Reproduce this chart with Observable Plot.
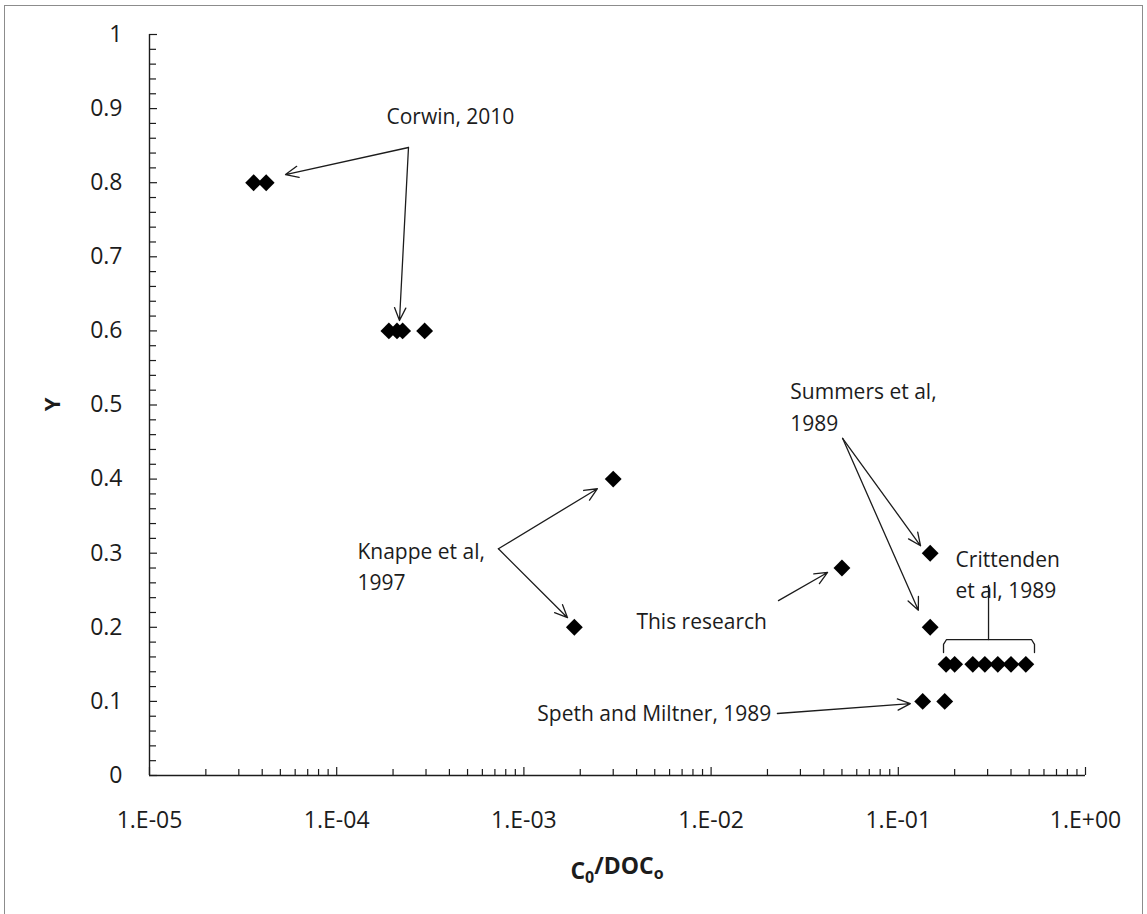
<!DOCTYPE html>
<html>
<head>
<meta charset="utf-8">
<script src="https://cdn.jsdelivr.net/npm/d3@7"></script>
<script src="https://cdn.jsdelivr.net/npm/@observablehq/plot@0.6"></script>
<style>
  body { margin: 0; background: #fff; }
  #chart { position: absolute; left: 0; top: 0; }
  #frame { position: absolute; left: 4px; top: 5px; width: 1137px; height: 940px;
           border: 1px solid #8c8c8c; pointer-events: none; }
</style>
</head>
<body>
<div id="chart"></div>
<div id="frame"></div>
<script>
// Adsorption data: Y versus C0/DOC0, grouped by source
const corwinX = [3.6e-5, 4.2e-5, 1.9e-4, 2.1e-4, 2.25e-4, 2.95e-4];
const corwinY = [0.8, 0.8, 0.6, 0.6, 0.6, 0.6];
const knappeX = [1.86e-3, 3.0e-3];
const knappeY = [0.2, 0.4];
const researchX = [0.05];
const researchY = [0.28];
const summersX = [0.148, 0.148];
const summersY = [0.3, 0.2];
const crittendenX = [0.18, 0.20, 0.25, 0.29, 0.34, 0.40, 0.48];
const crittendenY = [0.15, 0.15, 0.15, 0.15, 0.15, 0.15, 0.15];
const spethX = [0.135, 0.177];
const spethY = [0.1, 0.1];

// Callout labels (data coordinates of the left edge / vertical middle)
const labelText = ["Corwin, 2010", "Knappe et al,\n1997", "This research",
                   "Summers et al,\n1989", "Crittenden\net al, 1989", "Speth and Miltner, 1989"];
const labelX = [1.845e-4, 1.29e-4, 3.99e-3, 0.0265, 0.2023, 1.18e-3];
const labelY = [0.893, 0.285, 0.212, 0.50, 0.274, 0.0877];

// Callout arrows: from label to points
const arrowX1 = [2.418e-4, 2.418e-4, 7.31e-4, 7.31e-4, 0.0229, 0.0504, 0.0504, 0.0226];
const arrowY1 = [0.8475, 0.8475, 0.306, 0.306, 0.236, 0.455, 0.455, 0.0837];
const arrowX2 = [5.33e-5, 2.165e-4, 2.47e-3, 1.71e-3, 0.0419, 0.1315, 0.128, 0.116];
const arrowY2 = [0.811, 0.614, 0.387, 0.213, 0.274, 0.310, 0.223, 0.097];

// Brace grouping the Crittenden points
const braceX = [0.1744, 0.1744, 0.181, 0.5145, 0.534, 0.534];
const braceY = [0.166, 0.177, 0.1835, 0.1835, 0.177, 0.166];
const stemX = [0.3034, 0.3034];
const stemY = [0.1835, 0.2564];

// Axis ticks
const xMajor = [1e-5, 1e-4, 1e-3, 1e-2, 1e-1, 1];
const xMinor = [];
for (let e = -5; e < 0; e++) for (let m = 2; m <= 9; m++) xMinor.push(m * Math.pow(10, e));
const yMajor = d3.range(0, 11).map(i => i / 10);
const yMinor = d3.range(0, 51).map(i => i / 50).filter((v, i) => i % 5 !== 0);

const W = 1147, H = 914;
const mL = 149, mR = 62, mT = 34, mB = 139;
const innerW = W - mL - mR, innerH = H - mT - mB;

const zip = (xs, ys) => xs.map((x, i) => ({x, y: ys[i]}));
const points = [
  ...zip(corwinX, corwinY), ...zip(knappeX, knappeY), ...zip(researchX, researchY),
  ...zip(summersX, summersY), ...zip(crittendenX, crittendenY), ...zip(spethX, spethY)
];
const labels = labelText.map((t, i) => ({t, x: labelX[i], y: labelY[i]}));
const arrows = arrowX1.map((x1, i) => ({x1, y1: arrowY1[i], x2: arrowX2[i], y2: arrowY2[i]}));

const fmtX = d => {
  const e = Math.round(Math.log10(d));
  return "1.E" + (e < 0 ? "-" : "+") + String(Math.abs(e)).padStart(2, "0");
};
const fmtY = d => String(+d.toFixed(1));
const ink = "#1c1c1c";

const chart = Plot.plot({
  width: W, height: H,
  marginLeft: mL, marginRight: mR, marginTop: mT, marginBottom: mB,
  style: {fontFamily: "'Open Sans', sans-serif", fontSize: "21px", color: ink, background: "transparent"},
  x: {type: "log", domain: [1e-5, 1]},
  y: {domain: [0, 1]},
  marks: [
    // axis lines
    Plot.ruleX([1e-5], {stroke: ink, strokeWidth: 1.4}),
    Plot.ruleY([0], {stroke: ink, strokeWidth: 1.4}),
    // inward ticks
    Plot.tickX(xMajor, {x: d => d, insetTop: innerH - 8, stroke: ink, strokeWidth: 1.2}),
    Plot.tickX(xMinor, {x: d => d, insetTop: innerH - 6, stroke: ink, strokeWidth: 1.2}),
    Plot.tickY(yMajor, {y: d => d, insetRight: innerW - 8, stroke: ink, strokeWidth: 1.2}),
    Plot.tickY(yMinor, {y: d => d, insetRight: innerW - 7, stroke: ink, strokeWidth: 1.2}),
    // tick labels
    Plot.axisX({ticks: xMajor, tickSize: 0, tickPadding: 36, tickFormat: fmtX, label: null, fontSize: 23}),
    Plot.axisY({ticks: yMajor, tickSize: 0, tickPadding: 27, tickFormat: fmtY, label: null, fontSize: 23}),
    // callouts
    Plot.arrow(arrows, {x1: "x1", y1: "y1", x2: "x2", y2: "y2", stroke: ink, strokeWidth: 1.3,
                        headLength: 16, headAngle: 48}),
    Plot.line(zip(braceX, braceY), {x: "x", y: "y", stroke: ink, strokeWidth: 1.3}),
    Plot.line(zip(stemX, stemY), {x: "x", y: "y", stroke: ink, strokeWidth: 1.3}),
    Plot.text(labels, {x: "x", y: "y", text: "t", textAnchor: "start", lineAnchor: "middle",
                       lineHeight: 1.5, fontSize: 21, fill: ink}),
    // data points
    Plot.dot(points, {x: "x", y: "y", symbol: "diamond2", r: 7.6, fill: "#000", stroke: "none"})
  ]
});

// axis titles
const svg = d3.select(chart);
svg.append("text")
  .attr("transform", `translate(52,${mT + innerH / 2}) rotate(-90)`)
  .attr("text-anchor", "middle").attr("dy", "0.35em")
  .style("font-weight", "bold").style("font-size", "22px").attr("fill", ink)
  .text("Y");
const xt = svg.append("text")
  .attr("x", mL + innerW / 2).attr("y", 879)
  .attr("text-anchor", "middle")
  .style("font-weight", "bold").style("font-size", "23px").attr("fill", ink);
xt.append("tspan").text("C");
xt.append("tspan").attr("dy", "0.28em").style("font-size", "16px").text("0");
xt.append("tspan").attr("dy", "-0.4em").text("/DOC");
xt.append("tspan").attr("dy", "0.28em").style("font-size", "16px").text("o");

document.getElementById("chart").appendChild(chart);
</script>
</body>
</html>
